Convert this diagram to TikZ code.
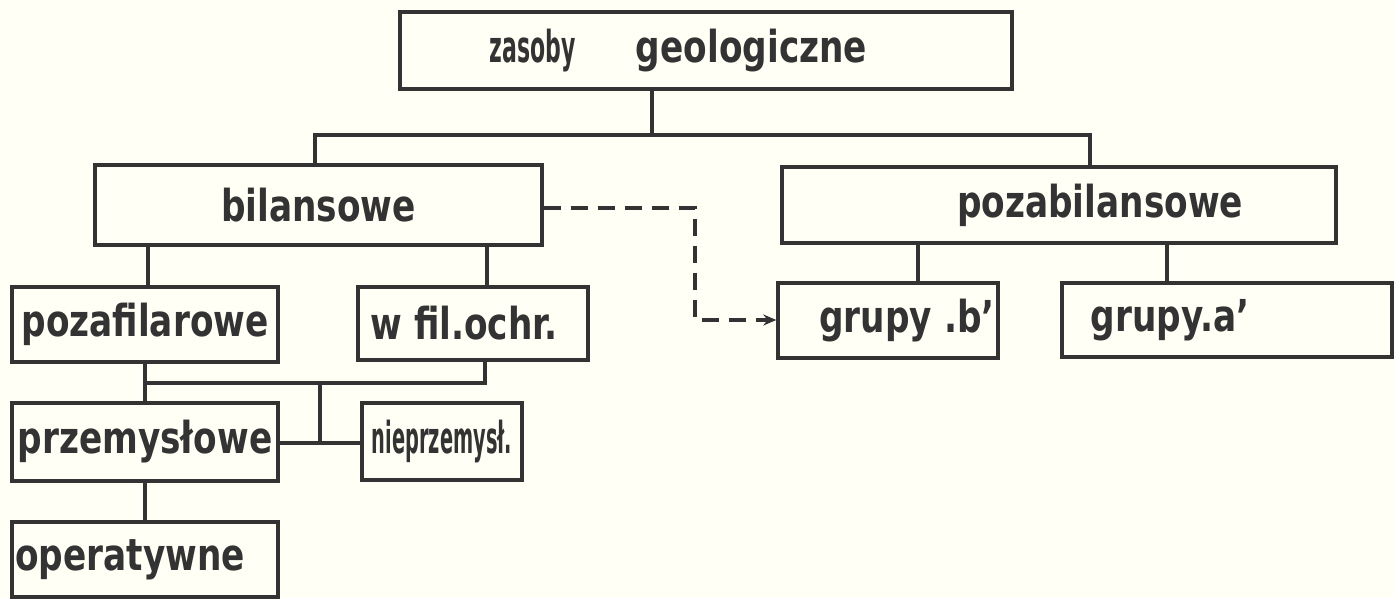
\documentclass[tikz,border=0pt]{standalone}
\usepackage{fontspec}
\setmainfont{DejaVu Sans}[FakeStretch=0.78]
\newfontfamily\narrowA{DejaVu Sans}[FakeStretch=0.50]
\newfontfamily\narrowB{DejaVu Sans}[FakeStretch=0.44]
\usetikzlibrary{arrows.meta}
\begin{document}
\begin{tikzpicture}[x=1pt,y=-1pt,
  box/.style={draw=black!80, line width=3.4pt, fill=none, inner sep=0pt,
    font=\fontsize{44}{48}\selectfont\bfseries, text=black!80},
  conn/.style={draw=black!80, line width=3.2pt},
  dconn/.style={draw=black!80, line width=3.2pt, dash pattern=on 17pt off 10pt}]
\fill[white!93!yellow!50!white] (0,0) rectangle (1394,598);
\useasboundingbox (0,0) rectangle (1394,598);
% boxes
\node[box, minimum width=612pt, minimum height=77pt] (top) at (706,50.5) {\hspace{-55pt}{\narrowA\bfseries zasoby}\hspace{60pt}geologiczne};
\node[box, minimum width=447pt, minimum height=80pt] (bil) at (318.5,205) {bilansowe};
\node[box, minimum width=554pt, minimum height=76pt] (poza) at (1059,205) {\hspace{82pt}pozabilansowe};
\node[box, minimum width=266pt, minimum height=75pt] (pf) at (145,324.5) {pozafilarowe};
\node[box, minimum width=230pt, minimum height=73pt] (wf) at (473,323.5) {\hspace{-18pt}w fil.ochr.};
\node[box, minimum width=220pt, minimum height=75pt] (gb) at (888,320.5) {\hspace{38pt}grupy .b’};
\node[box, minimum width=330pt, minimum height=74pt] (ga) at (1227,320) {\hspace{-114pt}grupy.a’};
\node[box, minimum width=266pt, minimum height=78pt] (prz) at (145,442) {przemysłowe};
\node[box, minimum width=160pt, minimum height=77pt] (nie) at (442,441.5) {\narrowB\bfseries nieprzemysł.};
\node[box, minimum width=266pt, minimum height=75pt] (op) at (145,559.5) {\hspace{-30pt}operatywne};
% junctions
\coordinate (j1) at (652,135);
\coordinate (jl) at (315,135);
\coordinate (jr) at (1090,135);
\coordinate (b1) at (148,266);
\coordinate (b2) at (487,266);
\coordinate (p1) at (918,263);
\coordinate (p2) at (1167,263);
\coordinate (h1) at (145,383);
\coordinate (h2) at (485,383);
\coordinate (hm) at (320,383);
\coordinate (hm2) at (320,443);
\coordinate (d1) at (695,208);
\coordinate (d2) at (695,320);
% connectors
\draw[conn] (top.south -| j1) -- (j1);
\draw[conn] (jl |- bil.north) -- (jl) -- (jr) -- (jr |- poza.north);
\draw[conn] (b1 |- bil.south) -- (b1 |- pf.north);
\draw[conn] (b2 |- bil.south) -- (b2 |- wf.north);
\draw[conn] (p1 |- poza.south) -- (p1 |- gb.north);
\draw[conn] (p2 |- poza.south) -- (p2 |- ga.north);
\draw[conn] (h1 |- pf.south) -- (h1 |- prz.north);
\draw[conn] (h1) -- (h2) -- (h2 |- wf.south);
\draw[conn] (hm) -- (hm2);
\draw[conn] (prz.east |- hm2) -- (nie.west |- hm2);
\draw[conn] (prz.south) -- (op.north);
\draw[dconn, -{Stealth[length=13pt,width=11pt]}] (bil.east |- d1) -- (d1) -- (d2) -- (gb.west |- d2);
\end{tikzpicture}
\end{document}
